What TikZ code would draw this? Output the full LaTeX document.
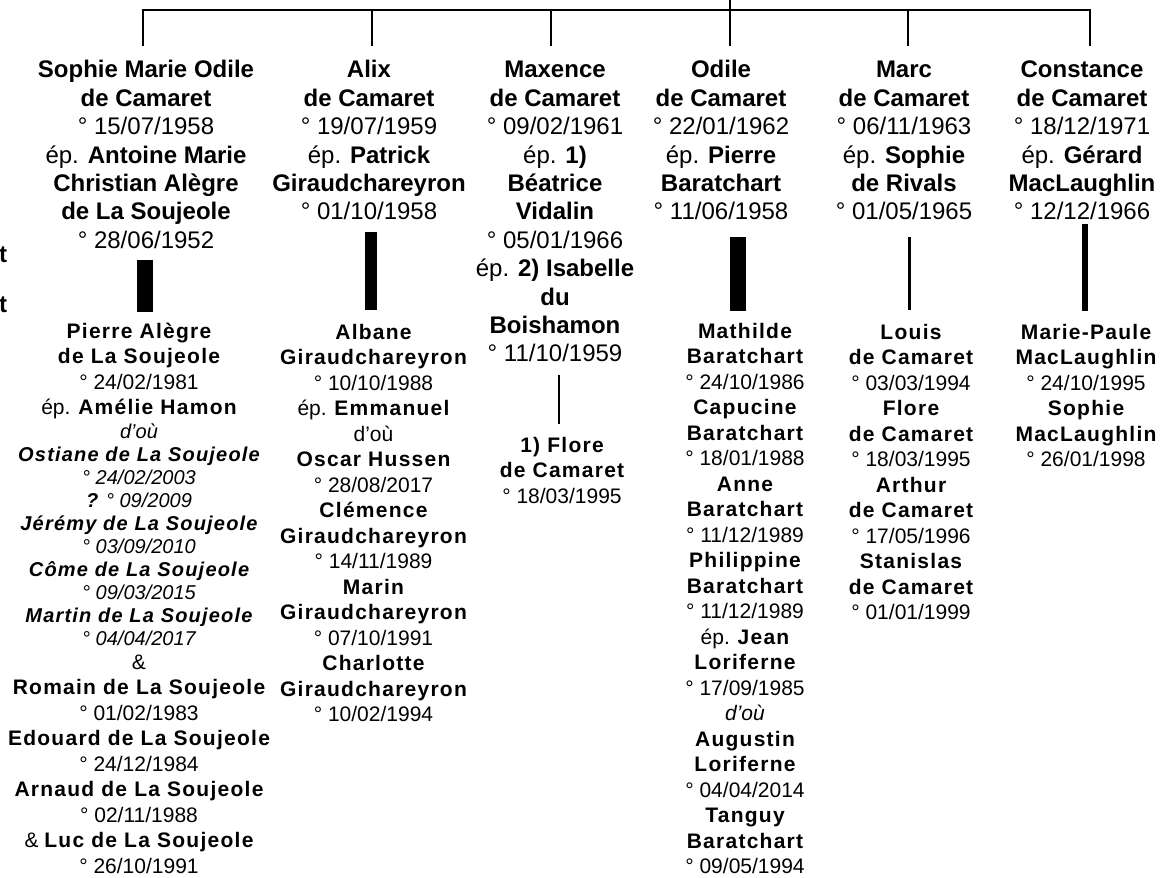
\documentclass[tikz,border=0pt]{standalone}
\usepackage{fontspec}
\setmainfont{Liberation Sans}
\newfontfamily\spaced[LetterSpace=6]{Liberation Sans}
\newcommand\nm[1]{{\spaced\bfseries #1}}
\newcommand\nmi[1]{{\fontsize{10}{12}\selectfont\spaced\bfseries\itshape #1}}
\newcommand\dti[1]{{\fontsize{10}{12}\selectfont\itshape #1}}
\tikzset{
  parent/.style={anchor=north, align=center, inner sep=0pt, font=\fontsize{12}{14.2}\selectfont,
    execute at end node=\strut},
  kids/.style={anchor=north, align=center, inner sep=0pt, font=\fontsize{10.5}{12.75}\selectfont,
    execute at end node=\strut},
  link/.style={line width=1.2pt},
  descent/.style={line width=#1},
}

\begin{document}
\begin{tikzpicture}[x=0.5pt,y=-0.5pt]
\useasboundingbox (0,0) rectangle (1160,877);
% first generation
\node[parent] (sophie) at (146,57.6) {\strut\textbf{Sophie Marie Odile}\\ \textbf{de Camaret}\\ ° 15/07/1958\\ ép. \textbf{Antoine Marie}\\ \textbf{Christian Alègre}\\ \textbf{de La Soujeole}\\ ° 28/06/1952};
\node[parent] (alix) at (369,57.6) {\strut\textbf{Alix}\\ \textbf{de Camaret}\\ ° 19/07/1959\\ ép. \textbf{Patrick}\\ \textbf{Giraudchareyron}\\ ° 01/10/1958};
\node[parent] (maxence) at (555,57.6) {\strut\textbf{Maxence}\\ \textbf{de Camaret}\\ ° 09/02/1961\\ ép. \textbf{1)}\\ \textbf{Béatrice}\\ \textbf{Vidalin}\\ ° 05/01/1966\\ ép. \textbf{2) Isabelle}\\ \textbf{du}\\ \textbf{Boishamon}\\ ° 11/10/1959};
\node[parent] (odile) at (721,57.6) {\strut\textbf{Odile}\\ \textbf{de Camaret}\\ ° 22/01/1962\\ ép. \textbf{Pierre}\\ \textbf{Baratchart}\\ ° 11/06/1958};
\node[parent] (marc) at (904,57.6) {\strut\textbf{Marc}\\ \textbf{de Camaret}\\ ° 06/11/1963\\ ép. \textbf{Sophie}\\ \textbf{de Rivals}\\ ° 01/05/1965};
\node[parent] (constance) at (1082,57.6) {\strut\textbf{Constance}\\ \textbf{de Camaret}\\ ° 18/12/1971\\ ép. \textbf{Gérard}\\ \textbf{MacLaughlin}\\ ° 12/12/1966};
\node[parent,anchor=base east] (edgeA) at (7.5,262) {\textbf{t}};
\node[parent,anchor=base east] (edgeB) at (7.5,312) {\textbf{t}};
% second generation
\node[kids] (pierre) at (139,320.2) {\strut\nm{Pierre Alègre}\\ \nm{de La Soujeole}\\ ° 24/02/1981\\ ép. \nm{Amélie Hamon}\\[-1.2pt] \dti{d’où}\\[-1.2pt] \nmi{Ostiane de La Soujeole}\\[-1.2pt] \dti{° 24/02/2003}\\[-1.2pt] \nmi{?} \dti{° 09/2009}\\[-1.2pt] \nmi{Jérémy de La Soujeole}\\[-1.2pt] \dti{° 03/09/2010}\\[-1.2pt] \nmi{Côme de La Soujeole}\\[-1.2pt] \dti{° 09/03/2015}\\[-1.2pt] \nmi{Martin de La Soujeole}\\[-1.2pt] \dti{° 04/04/2017}\\[-1.2pt] \&\\ \nm{Romain de La Soujeole}\\ ° 01/02/1983\\ \nm{Edouard de La Soujeole}\\ ° 24/12/1984\\ \nm{Arnaud de La Soujeole}\\ ° 02/11/1988\\ \& \nm{Luc de La Soujeole}\\ ° 26/10/1991};
\node[kids] (albane) at (373.5,321.2) {\strut\nm{Albane}\\ \nm{Giraudchareyron}\\ ° 10/10/1988\\ ép. \nm{Emmanuel}\\ d’où\\ \nm{Oscar Hussen}\\ ° 28/08/2017\\ \nm{Clémence}\\ \nm{Giraudchareyron}\\ ° 14/11/1989\\ \nm{Marin}\\ \nm{Giraudchareyron}\\ ° 07/10/1991\\ \nm{Charlotte}\\ \nm{Giraudchareyron}\\ ° 10/02/1994};
\node[kids] (flore) at (562,434.2) {\strut\nm{1) Flore}\\ \nm{de Camaret}\\ ° 18/03/1995};
\node[kids] (mathilde) at (745,320.2) {\strut\nm{Mathilde}\\ \nm{Baratchart}\\ ° 24/10/1986\\ \nm{Capucine}\\ \nm{Baratchart}\\ ° 18/01/1988\\ \nm{Anne}\\ \nm{Baratchart}\\ ° 11/12/1989\\ \nm{Philippine}\\ \nm{Baratchart}\\ ° 11/12/1989\\ ép. \nm{Jean}\\ \nm{Loriferne}\\ ° 17/09/1985\\ \textit{d’où}\\ \nm{Augustin}\\ \nm{Loriferne}\\ ° 04/04/2014\\ \nm{Tanguy}\\ \nm{Baratchart}\\ ° 09/05/1994};
\node[kids] (louis) at (911,321.2) {\strut\nm{Louis}\\ \nm{de Camaret}\\ ° 03/03/1994\\ \nm{Flore}\\ \nm{de Camaret}\\ ° 18/03/1995\\ \nm{Arthur}\\ \nm{de Camaret}\\ ° 17/05/1996\\ \nm{Stanislas}\\ \nm{de Camaret}\\ ° 01/01/1999};
\node[kids] (mariepaule) at (1086,321.2) {\strut\nm{Marie-Paule}\\ \nm{MacLaughlin}\\ ° 24/10/1995\\ \nm{Sophie}\\ \nm{MacLaughlin}\\ ° 26/01/1998};
% top bracket
\coordinate (root) at (730,0);
\coordinate (hub) at (730,10);
\draw[link] (root) -- (hub);
\draw[link] ([xshift=-1.5pt,yshift=5.8pt]sophie.north) |- (hub) -| ([xshift=4pt,yshift=5.8pt]constance.north);
\draw[link] ([xshift=1.5pt,yshift=5.8pt]alix.north) -- ([xshift=1.5pt]alix.north |- hub);
\draw[link] ([xshift=-2pt,yshift=5.8pt]maxence.north) -- ([xshift=-2pt]maxence.north |- hub);
\draw[link] ([xshift=4.5pt,yshift=5.8pt]odile.north) -- ([xshift=4.5pt]odile.north |- hub);
\draw[link] ([xshift=2pt,yshift=5.8pt]marc.north) -- ([xshift=2pt]marc.north |- hub);
% descent bars
\draw[descent=8pt, shorten <=1.3pt, shorten >=4.1pt] ([xshift=-0.5pt]sophie.south) -- ([xshift=-0.5pt]sophie.south |- pierre.north);
\draw[descent=6.25pt, shorten <=1.5pt, shorten >=5.6pt] ([xshift=1pt]alix.south) -- ([xshift=1pt]alix.south |- albane.north);
\draw[descent=1.3pt, shorten <=2pt, shorten >=5.1pt] ([xshift=2pt]maxence.south) -- ([xshift=2pt]maxence.south |- flore.north);
\draw[descent=8pt, shorten <=4pt, shorten >=4.6pt] ([xshift=8.25pt]odile.south) -- ([xshift=8.25pt]odile.south |- mathilde.north);
\draw[descent=1.5pt, shorten <=4pt, shorten >=5.6pt] ([xshift=2.5pt]marc.south) -- ([xshift=2.5pt]marc.south |- louis.north);
\draw[descent=3pt, shorten <=-2.5pt, shorten >=5.1pt] ([xshift=1.5pt]constance.south) -- ([xshift=1.5pt]constance.south |- mariepaule.north);
\end{tikzpicture}
\end{document}
